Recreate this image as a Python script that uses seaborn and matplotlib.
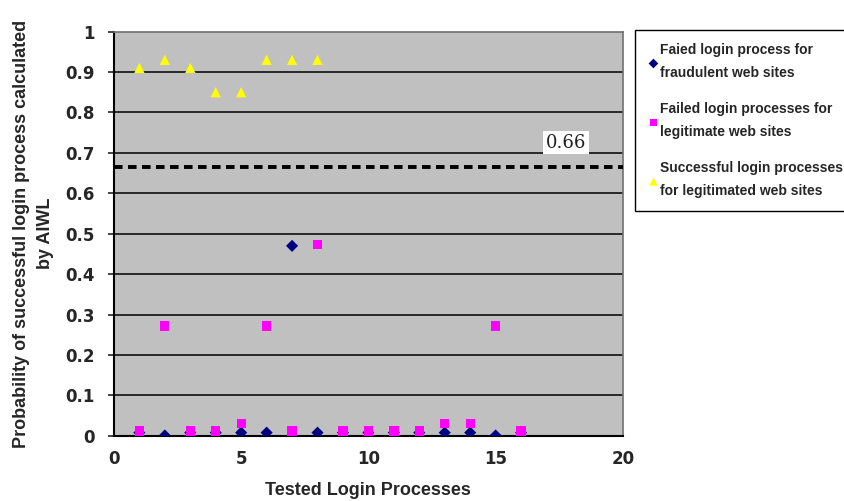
import matplotlib
matplotlib.use('Agg')
import matplotlib.pyplot as plt
import seaborn as sns
import pandas as pd
import numpy as np

# Data
x_fraud = [1, 2, 3, 4, 5, 6, 7, 8, 9, 10, 11, 12, 13, 14, 15, 16]
y_fraud = [0.008, 0.001, 0.008, 0.008, 0.008, 0.008, 0.47, 0.008,
           0.008, 0.008, 0.008, 0.008, 0.008, 0.008, 0.001, 0.008]

x_fail_legit = [1, 2, 3, 4, 5, 6, 7, 8, 9, 10, 11, 12, 13, 14, 15, 16]
y_fail_legit = [0.012, 0.272, 0.012, 0.012, 0.031, 0.272, 0.012, 0.473,
                0.012, 0.012, 0.012, 0.012, 0.031, 0.031, 0.272, 0.012]

x_success = [1, 2, 3, 4, 5, 6, 7, 8]
y_success = [0.91, 0.93, 0.91, 0.85, 0.85, 0.93, 0.93, 0.93]

threshold = 0.665
threshold_label = '0.66'

labels = ['Faied login process for\nfraudulent web sites',
          'Failed login processes for\nlegitimate web sites',
          'Successful login processes\nfor legitimated web sites']

sns.set_style('white')
plt.rcParams['font.family'] = ['DejaVu Sans']
label_font = 'Liberation Sans'

fig = plt.figure(figsize=(8.44, 5.01), dpi=100)
ax = fig.add_axes([0.135, 0.130, 0.603, 0.807])
ax.set_facecolor('#C0C0C0')

df_fraud = pd.DataFrame({'x': x_fraud, 'y': y_fraud})
df_legit = pd.DataFrame({'x': x_fail_legit, 'y': y_fail_legit})
df_succ = pd.DataFrame({'x': x_success, 'y': y_success})

sns.scatterplot(data=df_fraud, x='x', y='y', marker='D', color='#000080', s=38,
                edgecolor='none', label=labels[0], ax=ax, zorder=4)
sns.scatterplot(data=df_legit, x='x', y='y', marker='s', color='#FF00FF', s=45,
                edgecolor='none', label=labels[1], ax=ax, zorder=5)
sns.scatterplot(data=df_succ, x='x', y='y', marker='^', color='#FFFF00', s=55,
                edgecolor='none', label=labels[2], ax=ax, zorder=5)

# horizontal grid
for gy in np.arange(0.1, 1.0, 0.1):
    ax.axhline(gy, color='black', lw=1.1, zorder=1)

ax.axhline(threshold, color='black', lw=2.8, linestyle=(0, (2.2, 1.4)), zorder=3)
ax.text(17.75, 0.725, threshold_label, family='DejaVu Serif', fontsize=13,
        color='#222222', ha='center', va='center', zorder=6,
        bbox=dict(facecolor='white', edgecolor='none', pad=2))

ax.set_xlim(0, 20)
ax.set_ylim(0, 1)
ax.set_xticks([0, 5, 10, 15, 20])
ax.set_yticks(np.round(np.arange(0, 1.01, 0.1), 1))
ax.set_yticklabels(['0', '0.1', '0.2', '0.3', '0.4', '0.5', '0.6', '0.7', '0.8', '0.9', '1'])
ax.tick_params(axis='both', labelsize=12, width=1.2)
ax.tick_params(axis='y', direction='out', length=4, left=True, pad=10)
ax.tick_params(axis='x', length=0, pad=10)
for t in ax.get_xticklabels() + ax.get_yticklabels():
    t.set_fontweight('bold')

ax.set_xlabel('Tested Login Processes', fontsize=13, fontweight='bold',
              family=label_font, labelpad=10)
ax.set_ylabel('Probability of successful login process calculated\nby AIWL',
              fontsize=13, fontweight='bold', family=label_font,
              labelpad=8, linespacing=1.55)

for side in ['left', 'bottom']:
    ax.spines[side].set_color('black')
    ax.spines[side].set_linewidth(1.5)
for side in ['top', 'right']:
    ax.spines[side].set_color('#707070')
    ax.spines[side].set_linewidth(1.2)

ax.get_legend().remove()
handles, hl = ax.get_legend_handles_labels()
leg = fig.legend(handles, hl, loc='upper left', bbox_to_anchor=(0.752, 0.94),
                 frameon=True, fancybox=False, edgecolor='black', framealpha=1,
                 prop={'weight': 'bold', 'size': 10, 'family': label_font},
                 labelspacing=1.6, handletextpad=0.1, handlelength=0.8,
                 borderpad=0.95, borderaxespad=0, markerscale=0.8)
for t in leg.get_texts():
    t.set_linespacing(1.8)
leg.get_frame().set_linewidth(1.0)

fig.savefig('out.png', dpi=100)
